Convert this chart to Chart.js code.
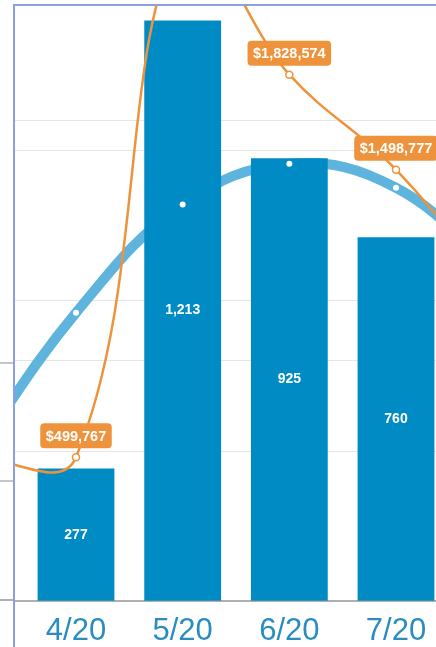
<!DOCTYPE html>
<html>
<head>
<meta charset="utf-8">
<script src="https://cdn.jsdelivr.net/npm/chart.js@4.4.1/dist/chart.umd.min.js"></script>
<style>
  body { margin: 0; background: #fff; width: 436px; height: 647px; overflow: hidden; position: relative; }
  .frame { position: absolute; left: 13px; top: 4px; width: 430px; height: 650px;
           border-left: 2px solid #8c9fe1; border-top: 2px solid #8c9fe1; overflow: hidden; }
  .frame canvas { position: absolute; left: -99px; top: -156px; }
  .side-rule { position: absolute; left: 0; width: 13px; height: 2px; background: #c6c6c6; }
</style>
</head>
<body>
<div class="side-rule" style="top:362px"></div>
<div class="side-rule" style="top:480px"></div>
<div class="side-rule" style="top:599px; background:#b0b0b0"></div>
<div class="frame">
  <canvas id="salesChart" width="640" height="812"></canvas>
</div>
<script>
// Monthly data
const months = ["3/20", "4/20", "5/20", "6/20", "7/20", "8/20"];
const orderCounts = [null, 277, 1213, 925, 760, null];
const revenue = [505000, 499767, 2316000, 1828574, 1498777, 1050000];
const trendValues = [58, 120, 165, 182, 172, 135];

const barBlue = "#008bc5";
const trendBlue = "#5fb4dd";
const orange = "#ef923c";

// y axes only draw grid lines, so they take no room
const noWidth = (scale) => { scale.width = 0; };

// Draws the value labels: counts inside bars, revenue tags above the orange points
const valueLabels = {
    id: "valueLabels",
    afterDatasetsDraw(chart) {
        const ctx = chart.ctx;
        ctx.save();

        const barMeta = chart.getDatasetMeta(2);
        ctx.font = "bold 14px 'Liberation Sans', Arial, sans-serif";
        ctx.fillStyle = "#ffffff";
        ctx.textAlign = "center";
        ctx.textBaseline = "middle";
        barMeta.data.forEach((bar, i) => {
            if (orderCounts[i] == null) return;
            ctx.fillText(orderCounts[i].toLocaleString("en-US"), bar.x, (bar.y + bar.base) / 2);
        });

        const lineMeta = chart.getDatasetMeta(0);
        ctx.font = "bold 14.5px 'Liberation Sans', Arial, sans-serif";
        lineMeta.data.forEach((pt, i) => {
            const text = "$" + revenue[i].toLocaleString("en-US");
            const w = ctx.measureText(text).width + 11;
            const h = 25;
            const x = pt.x - w / 2;
            const y = pt.y - 9 - h;
            ctx.fillStyle = orange;
            ctx.beginPath();
            ctx.roundRect(x, y, w, h, 4);
            ctx.fill();
            ctx.fillStyle = "#ffffff";
            ctx.fillText(text, pt.x, y + h / 2 + 1);
        });
        ctx.restore();
    }
};

const ctx = document.getElementById("salesChart").getContext("2d");
new Chart(ctx, {
    data: {
        labels: months,
        datasets: [
            {
                type: "line",
                label: "Revenue",
                data: revenue,
                yAxisID: "yRevenue",
                borderColor: orange,
                borderWidth: 2.5,
                tension: 0.4,
                pointRadius: 3.5,
                pointBackgroundColor: "#ffffff",
                pointBorderColor: orange,
                pointBorderWidth: 1.5,
                order: 0
            },
            {
                type: "line",
                label: "Trend points",
                data: trendValues,
                yAxisID: "yTrend",
                showLine: false,
                pointRadius: 3,
                pointBackgroundColor: "#ffffff",
                pointBorderWidth: 0,
                order: 1
            },
            {
                type: "bar",
                label: "Orders",
                data: orderCounts,
                yAxisID: "yOrders",
                backgroundColor: barBlue,
                barPercentage: 0.72,
                categoryPercentage: 1,
                order: 2
            },
            {
                type: "line",
                label: "Trend",
                data: trendValues,
                yAxisID: "yTrend",
                borderColor: trendBlue,
                borderWidth: 10,
                tension: 0.4,
                pointRadius: 0,
                order: 3
            }
        ]
    },
    options: {
        responsive: false,
        devicePixelRatio: 1,
        animation: false,
        layout: { padding: 0, autoPadding: false },
        plugins: {
            legend: { display: false },
            tooltip: { enabled: false }
        },
        scales: {
            x: {
                grid: { display: false, drawTicks: false },
                border: { display: true, color: "#b0b0b0", width: 2 },
                ticks: {
                    color: "#2a8cc0",
                    padding: 11,
                    font: { family: "'Liberation Sans', Arial, sans-serif", size: 31, lineHeight: 1.25 }
                }
            },
            yOrders: {
                position: "left",
                min: 0,
                max: 1569,
                afterFit: noWidth,
                ticks: { display: false, stepSize: 300 },
                grid: { color: "#e6e6e6", drawTicks: false },
                border: { display: false }
            },
            yTrend: {
                position: "right",
                min: 0,
                max: 312.5,
                afterFit: noWidth,
                ticks: { display: false, stepSize: 100 },
                grid: { color: "#e6e6e6", drawTicks: false },
                border: { display: false }
            },
            yRevenue: {
                position: "right",
                min: 0,
                max: 2608950,
                afterFit: noWidth,
                ticks: { display: false },
                grid: { display: false, drawTicks: false },
                border: { display: false }
            }
        }
    },
    plugins: [valueLabels]
});
</script>
</body>
</html>
